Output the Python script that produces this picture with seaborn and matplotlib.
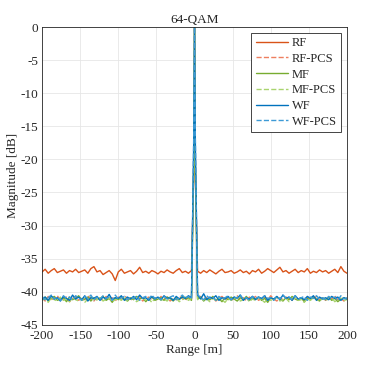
#Range profile plot, 64-QAM
import numpy as np
import matplotlib
matplotlib.use('Agg')
import matplotlib.pyplot as plt
import seaborn as sns

# range samples [m]: step 4 m plus the samples right next to the peak
rng = list(range(-200, 0, 4)) + [-1, 0, 1] + list(range(4, 201, 4))

rf = [-37.0, -36.6, -37.2, -36.8, -36.5, -37.1, -36.9, -36.7, -37.2, -36.8,
      -37.0, -36.6, -37.1, -36.9, -36.7, -37.2, -36.5, -36.2, -37.0, -36.8,
      -37.4, -37.1, -36.8, -37.3, -38.3, -37.0, -36.6, -37.2, -37.0, -36.8,
      -37.3, -36.9, -36.3, -37.1, -36.9, -37.2, -36.8, -37.0, -37.3, -36.9,
      -37.1, -36.7, -37.0, -37.2, -36.8, -36.5, -37.1, -36.9, -37.2, -36.8,
      -22.0, 0.0, -22.0,
      -36.9, -37.2, -36.8, -37.1, -36.7, -37.0, -37.3, -36.9, -36.6, -37.1,
      -37.0, -36.8, -37.2, -37.0, -36.7, -37.1, -36.9, -37.3, -36.8, -37.0,
      -36.6, -37.2, -36.9, -36.5, -36.8, -37.1, -36.7, -36.3, -37.0, -36.8,
      -37.2, -36.9, -36.6, -37.1, -36.8, -37.0, -36.5, -37.2, -36.9, -37.1,
      -36.7, -37.0, -36.8, -37.2, -36.9, -36.6, -37.1, -36.2, -36.9, -37.2]

rf_pcs = [-40.9, -41.4, -40.7, -41.2, -41.0, -40.6, -41.3, -41.1, -40.8, -41.5,
          -41.0, -40.7, -41.3, -40.9, -41.2, -40.6, -41.1, -41.4, -40.8, -41.0,
          -41.3, -40.7, -41.1, -40.9, -41.4, -40.8, -41.2, -40.6, -41.0, -41.3,
          -40.9, -41.1, -40.7, -41.4, -41.0, -40.8, -41.2, -40.9, -41.3, -40.7,
          -41.1, -40.8, -41.4, -40.9, -41.2, -40.7, -41.0, -41.3, -40.8, -41.1,
          -19.0, 0.0, -19.0,
          -41.0, -40.7, -41.3, -40.9, -41.2, -40.8, -41.4, -41.0, -40.7, -41.2,
          -40.9, -41.3, -41.0, -40.6, -41.2, -40.9, -41.4, -40.8, -41.1, -40.7,
          -41.3, -41.0, -40.8, -41.2, -40.6, -41.1, -41.4, -40.9, -41.2, -40.8,
          -41.0, -41.3, -40.7, -41.1, -40.9, -41.4, -40.8, -41.2, -41.0, -40.7,
          -41.2, -40.9, -41.3, -40.8, -41.1, -40.6, -41.2, -41.0, -41.4, -40.9]

mf = [-41.1, -40.8, -41.4, -41.0, -40.7, -41.3, -41.1, -40.9, -41.5, -40.8,
      -41.2, -41.0, -40.6, -41.3, -41.1, -40.8, -41.4, -40.9, -41.2, -41.0,
      -40.7, -41.3, -41.0, -41.6, -40.9, -41.2, -40.8, -41.1, -41.4, -40.9,
      -41.2, -40.7, -41.1, -40.9, -41.5, -41.0, -40.8, -41.3, -41.1, -40.9,
      -41.3, -40.8, -41.0, -41.4, -40.9, -41.2, -40.7, -41.1, -40.9, -41.3,
      -21.0, 0.0, -21.0,
      -41.1, -40.8, -41.4, -41.0, -41.2, -40.7, -41.3, -41.0, -41.5, -40.9,
      -41.2, -40.8, -41.1, -41.4, -40.9, -41.2, -40.7, -41.3, -41.0, -41.1,
      -40.8, -41.3, -41.0, -41.6, -40.9, -41.2, -40.8, -41.1, -41.4, -40.9,
      -41.2, -40.7, -41.1, -41.3, -40.9, -41.5, -41.0, -41.2, -40.8, -41.1,
      -41.4, -40.9, -41.2, -40.8, -41.3, -41.0, -41.5, -41.1, -40.9, -41.2]

mf_pcs = [-41.3, -41.0, -41.6, -40.9, -41.2, -41.4, -40.8, -41.3, -41.1, -41.5,
          -40.9, -41.2, -41.4, -41.0, -41.6, -41.1, -40.8, -41.3, -41.2, -40.9,
          -41.4, -41.1, -40.9, -41.5, -41.2, -41.0, -41.3, -40.8, -41.4, -41.1,
          -41.0, -41.5, -41.2, -40.9, -41.3, -41.1, -41.6, -41.0, -40.9, -41.3,
          -41.1, -41.4, -40.9, -41.2, -41.0, -41.5, -41.2, -40.8, -41.3, -41.0,
          -20.0, 0.0, -20.0,
          -41.2, -40.9, -41.3, -41.1, -41.5, -41.0, -41.3, -40.9, -41.2, -41.6,
          -41.0, -41.3, -41.1, -40.8, -41.4, -41.2, -40.9, -41.5, -41.1, -41.3,
          -40.9, -41.2, -41.6, -41.0, -41.3, -41.1, -40.8, -41.4, -41.2, -41.0,
          -41.5, -41.1, -40.9, -41.3, -41.2, -41.6, -41.0, -41.3, -40.9, -41.2,
          -41.4, -41.0, -41.3, -41.1, -40.9, -41.5, -41.2, -41.0, -41.4, -41.1]

wf = [-41.2, -40.8, -41.3, -40.6, -41.1, -40.9, -41.4, -40.7, -41.0, -41.3,
      -40.5, -41.1, -40.8, -41.2, -40.6, -41.4, -40.9, -41.0, -40.7, -41.3,
      -40.8, -41.1, -40.4, -41.2, -40.9, -41.0, -40.6, -41.3, -40.8, -41.1,
      -40.7, -41.2, -40.5, -41.0, -40.9, -41.3, -40.7, -41.1, -40.8, -41.2,
      -40.6, -41.0, -40.9, -41.3, -40.7, -41.1, -40.8, -41.0, -40.6, -40.9,
      -17.0, 0.0, -17.0,
      -40.5, -41.1, -40.3, -41.2, -40.8, -41.0, -40.6, -41.3, -40.9, -41.1,
      -40.7, -41.2, -40.8, -41.0, -40.5, -41.3, -40.9, -41.1, -40.7, -41.2,
      -40.8, -41.0, -40.6, -41.3, -40.9, -41.1, -40.7, -41.2, -40.5, -41.0,
      -40.8, -41.3, -40.6, -41.1, -40.9, -41.2, -40.7, -41.0, -40.6, -41.3,
      -40.8, -41.1, -40.9, -41.2, -40.7, -41.0, -40.8, -41.3, -40.9, -41.1]

wf_pcs = [-40.7, -41.2, -40.9, -40.5, -41.1, -40.8, -41.3, -40.6, -41.0, -40.8,
          -41.2, -40.6, -40.9, -41.3, -40.7, -41.0, -40.5, -41.2, -40.8, -41.1,
          -40.6, -41.0, -40.8, -41.3, -40.5, -41.1, -40.9, -40.7, -41.2, -40.8,
          -41.0, -40.6, -41.3, -40.9, -40.7, -41.1, -40.5, -41.0, -40.8, -41.2,
          -40.7, -41.1, -40.8, -40.6, -41.2, -40.9, -40.5, -41.0, -40.7, -41.1,
          -16.0, 0.0, -16.0,
          -40.4, -40.9, -41.2, -40.6, -41.0, -40.8, -41.3, -40.7, -41.1, -40.9,
          -40.6, -41.2, -40.8, -41.0, -40.5, -41.1, -40.9, -41.3, -40.7, -41.0,
          -40.8, -41.2, -40.6, -41.0, -40.9, -41.3, -40.7, -41.1, -40.5, -41.0,
          -40.8, -41.2, -40.6, -41.1, -40.9, -40.7, -41.3, -40.8, -41.0, -40.6,
          -41.1, -40.9, -41.2, -40.7, -41.0, -40.8, -41.3, -40.6, -41.1, -40.9]

labels = ['RF', 'RF-PCS', 'MF', 'MF-PCS', 'WF', 'WF-PCS']
series = [rf, rf_pcs, mf, mf_pcs, wf, wf_pcs]
colors = ['#D95319', '#EE7F5F', '#77AC30', '#A9D46F', '#0072BD', '#3D9AD6']
styles = ['-', '--', '-', '--', '-', '--']

sns.set_style('whitegrid')
plt.rcParams['font.family'] = ['Liberation Serif', 'DejaVu Serif']
plt.rcParams['axes.unicode_minus'] = False  # plain hyphen like the original

fig = plt.figure(figsize=(3.66, 3.70), dpi=100)
ax = fig.add_axes([0.115, 0.122, 0.833, 0.805])

for y, lab, c, ls in zip(series, labels, colors, styles):
    sns.lineplot(x=rng, y=y, ax=ax, color=c, linestyle=ls, linewidth=1.0, label=lab)

ax.set_xlim(-200, 200)
ax.set_ylim(-45, 0)
ax.set_xticks(np.arange(-200, 201, 50))
ax.set_yticks(np.arange(-45, 1, 5))
ax.tick_params(direction='in', length=3, labelsize=9.5, colors='#262626', pad=3)
ax.tick_params(axis='x', pad=4)
ax.grid(True, color='#E6E6E6', linewidth=0.6)
for s in ax.spines.values():
    s.set_color('#262626')
    s.set_linewidth(0.6)
ax.set_xlabel('Range [m]', fontsize=9.5, labelpad=1)
ax.set_ylabel('Magnitude [dB]', fontsize=9.5, labelpad=1)
ax.set_title('64-QAM', fontsize=9.5, pad=3)

leg = ax.legend(loc='upper right', fontsize=9, frameon=True, fancybox=False,
                edgecolor='#262626', framealpha=1, handlelength=2.6,
                borderaxespad=0.45, labelspacing=0.3, borderpad=0.35, handletextpad=0.3)
leg.get_frame().set_linewidth(0.6)

plt.savefig('out.png', dpi=100)
